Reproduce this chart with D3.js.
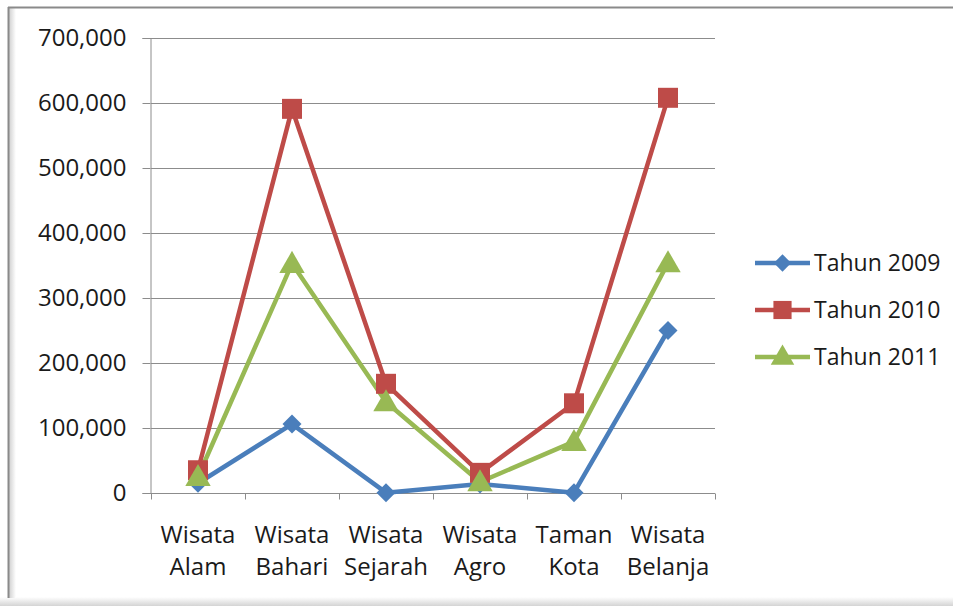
<!DOCTYPE html>
<html>
<head>
<meta charset="utf-8">
<script src="https://cdn.jsdelivr.net/npm/d3@7"></script>
<style>
  body { margin: 0; background: #fff; }
  text { font-family: "Open Sans", "Lato", sans-serif; fill: #1a1a1a; }
</style>
</head>
<body>
<div id="chart"></div>
<script>
// categories and values
var categories = ['Wisata Alam', 'Wisata Bahari', 'Wisata Sejarah', 'Wisata Agro', 'Taman Kota', 'Wisata Belanja'];
var tahun2009 = [15000, 106000, 500, 14000, 500, 250000];
var tahun2010 = [35000, 591000, 168000, 31000, 138000, 608000];
var tahun2011 = [25000, 353000, 140000, 17000, 79000, 354000];
var seriesNames = ['Tahun 2009', 'Tahun 2010', 'Tahun 2011'];
var yTicks = [0, 100000, 200000, 300000, 400000, 500000, 600000, 700000];

var colors = ['#4a7ebb', '#be4b48', '#98b954'];
// diamond is a square turned 45 degrees
var shapes = [d3.symbolSquare, d3.symbolSquare, d3.symbolTriangle];
var rotate = [45, 0, 0];
var series = [tahun2009, tahun2010, tahun2011];

var W = 953, H = 606;
var margin = { top: 38, left: 151, right: 238, bottom: 113 };

var svg = d3.select('#chart').append('svg')
  .attr('width', W)
  .attr('height', H);

// frame with a soft shadow
var defs = svg.append('defs');
var gl = defs.append('linearGradient').attr('id', 'shadeB').attr('x1', 0).attr('y1', 0).attr('x2', 0).attr('y2', 1);
gl.append('stop').attr('offset', 0).attr('stop-color', '#fff');
gl.append('stop').attr('offset', 1).attr('stop-color', '#d4d4d4');
var gv = defs.append('linearGradient').attr('id', 'shadeL').attr('x1', 0).attr('y1', 0).attr('x2', 1).attr('y2', 0);
gv.append('stop').attr('offset', 0).attr('stop-color', '#d0d0d0');
gv.append('stop').attr('offset', 1).attr('stop-color', '#fff');
svg.append('rect').attr('x', 0).attr('y', 597).attr('width', W).attr('height', 9).attr('fill', 'url(#shadeB)');
svg.append('rect').attr('x', 9).attr('y', 8).attr('width', 7).attr('height', 590).attr('fill', 'url(#shadeL)');
svg.append('line').attr('x1', 8).attr('x2', W).attr('y1', 7.5).attr('y2', 7.5)
  .attr('stroke', '#8a8a8a').attr('stroke-width', 2);
svg.append('line').attr('x1', 8.5).attr('x2', 8.5).attr('y1', 7).attr('y2', 598)
  .attr('stroke', '#8a8a8a').attr('stroke-width', 2);

var x = d3.scaleBand()
  .domain(categories)
  .range([margin.left, W - margin.right]);
var y = d3.scaleLinear()
  .domain([0, 700000])
  .range([H - margin.bottom, margin.top]);

// gridlines
svg.append('g')
  .selectAll('line')
  .data(yTicks.slice(1))
  .enter().append('line')
  .attr('x1', margin.left)
  .attr('x2', W - margin.right)
  .attr('y1', function (d) { return Math.round(y(d)) + 0.5; })
  .attr('y2', function (d) { return Math.round(y(d)) + 0.5; })
  .attr('stroke', '#8c8c8c')
  .attr('stroke-width', 1);

// y axis
var yAxis = d3.axisLeft(y)
  .tickValues(yTicks)
  .tickSize(8)
  .tickPadding(16)
  .tickFormat(d3.format(','));
var gy = svg.append('g')
  .attr('transform', 'translate(' + (margin.left - 0.5) + ',0)')
  .call(yAxis);
gy.select('.domain').attr('stroke', '#8c8c8c');
gy.selectAll('.tick line').attr('stroke', '#8c8c8c');
gy.selectAll('.tick text')
  .attr('font-size', 24)
  .attr('font-family', '"Open Sans", sans-serif')
  .attr('fill', '#1a1a1a');

// x axis, ticks between categories
var xAxisY = Math.round(y(0)) + 0.5;
svg.append('line')
  .attr('x1', margin.left).attr('x2', W - margin.right)
  .attr('y1', xAxisY).attr('y2', xAxisY)
  .attr('stroke', '#8c8c8c');
var bounds = categories.map(function (c) { return x(c); }).concat([x(categories[categories.length - 1]) + x.bandwidth()]);
svg.append('g').selectAll('line')
  .data(bounds)
  .enter().append('line')
  .attr('x1', function (d) { return Math.round(d) + 0.5; })
  .attr('x2', function (d) { return Math.round(d) + 0.5; })
  .attr('y1', xAxisY).attr('y2', xAxisY + 6)
  .attr('stroke', '#8c8c8c');

var labels = svg.append('g').selectAll('text')
  .data(categories)
  .enter().append('text')
  .attr('text-anchor', 'middle')
  .attr('font-size', 24)
  .attr('x', function (d) { return x(d) + x.bandwidth() / 2; })
  .attr('y', 543);
labels.each(function (d) {
  var parts = d.split(' ');
  var t = d3.select(this);
  parts.forEach(function (p, i) {
    t.append('tspan')
      .attr('x', x(d) + x.bandwidth() / 2)
      .attr('dy', i === 0 ? 0 : 32)
      .text(p);
  });
});

// lines and markers
var line = d3.line()
  .x(function (d, i) { return x(categories[i]) + x.bandwidth() / 2; })
  .y(function (d) { return y(d); });

series.forEach(function (s, k) {
  svg.append('path')
    .datum(s)
    .attr('d', line)
    .attr('fill', 'none')
    .attr('stroke', colors[k])
    .attr('stroke-width', 4.5)
    .attr('stroke-linejoin', 'round');
});
series.forEach(function (s, k) {
  svg.append('g').selectAll('path')
    .data(s)
    .enter().append('path')
    .attr('transform', function (d, i) {
      var dx = x(categories[i]) + x.bandwidth() / 2;
      var dy = y(d) + (k === 2 ? 2 : 0);
      return 'translate(' + dx + ',' + dy + ') rotate(' + rotate[k] + ')';
    })
    .attr('d', d3.symbol().type(shapes[k]).size(k === 0 ? 180 : k === 1 ? 400 : 280))
    .attr('fill', colors[k]);
});

// legend
var legend = svg.append('g');
var legY = [263, 310, 357];
seriesNames.forEach(function (name, k) {
  var g = legend.append('g').attr('transform', 'translate(0,' + legY[k] + ')');
  g.append('line')
    .attr('x1', 755).attr('x2', 810)
    .attr('stroke', colors[k]).attr('stroke-width', 4.5);
  g.append('path')
    .attr('transform', 'translate(782.5,' + (k === 2 ? 1 : 0) + ') rotate(' + rotate[k] + ')')
    .attr('d', d3.symbol().type(shapes[k]).size(k === 0 ? 150 : k === 1 ? 330 : 240))
    .attr('fill', colors[k]);
  g.append('text')
    .attr('x', 814)
    .attr('y', 8)
    .attr('font-size', 23)
    .text(name);
});
</script>
</body>
</html>
